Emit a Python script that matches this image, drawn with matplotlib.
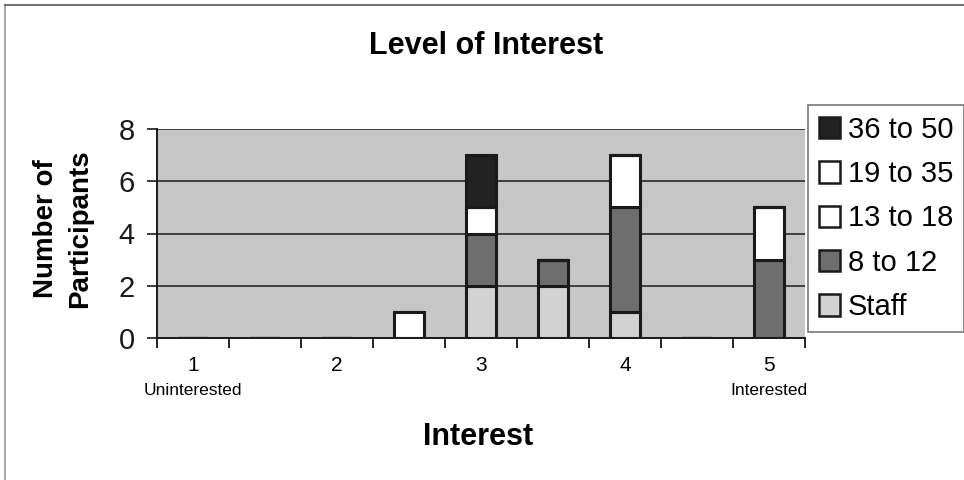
import matplotlib
matplotlib.use("Agg")
import matplotlib.pyplot as plt
from matplotlib.lines import Line2D
import numpy as np

# interest levels in half steps; only whole numbers get a label
LEVELS = ["1", "1.5", "2", "2.5", "3", "3.5", "4", "4.5", "5"]
LABELED = ["1", "2", "3", "4", "5"]

# participants per level, by group (stacked bottom to top)
STAFF = [0, 0, 0, 0, 2, 2, 1, 0, 0]
AGE_8_12 = [0, 0, 0, 0, 2, 1, 4, 0, 3]
AGE_13_18 = [0, 0, 0, 0, 1, 0, 2, 0, 2]
AGE_19_35 = [0, 0, 0, 1, 0, 0, 0, 0, 0]
AGE_36_50 = [0, 0, 0, 0, 2, 0, 0, 0, 0]

SERIES = [
    ("Staff", STAFF, "#d2d2d2"),
    ("8 to 12", AGE_8_12, "#6e6e6e"),
    ("13 to 18", AGE_13_18, "#ffffff"),
    ("19 to 35", AGE_19_35, "#ffffff"),
    ("36 to 50", AGE_36_50, "#222222"),
]

plt.rcParams["font.family"] = ["Liberation Sans", "DejaVu Sans"]

fig = plt.figure(figsize=(9.64, 4.8), dpi=100)
ax = fig.add_axes([157 / 964, 1 - 338 / 480, (805 - 157) / 964, (338 - 129) / 480])
ax.set_facecolor("#c6c6c6")

x = np.arange(len(LEVELS))
bottom = np.zeros(len(LEVELS))
handles = []
for name, vals, color in SERIES:
    vals = np.array(vals, dtype=float)
    ax.bar(x, vals, 0.42, bottom=bottom, color=color, edgecolor="#1a1a1a",
           linewidth=2.2, zorder=3)
    bottom += vals
    handles.append(plt.Rectangle((0, 0), 1, 1, facecolor=color,
                                 edgecolor="#1a1a1a", linewidth=1.8))

ax.set_xlim(-0.5, len(LEVELS) - 0.5)
ax.set_ylim(0, 8)
ax.set_yticks([0, 2, 4, 6, 8])
ax.tick_params(axis="y", labelsize=21, length=7, width=1.2, direction="out",
               pad=9, colors="#1a1a1a")
ax.grid(True, axis="y", color="#1a1a1a", linewidth=1.1, zorder=1)

# boundary ticks between levels, labels on the whole-number levels
ax.set_xticks(np.arange(-0.5, len(LEVELS), 1.0))
ax.set_xticklabels([])
ax.tick_params(axis="x", length=7, width=1.2, direction="out")
lab_pos = [LEVELS.index(l) for l in LABELED]
ax.set_xticks(lab_pos, minor=True)
ax.set_xticklabels(LABELED, minor=True)
ax.tick_params(axis="x", which="minor", length=0, labelsize=15, pad=13)

for side in ("top", "right"):
    ax.spines[side].set_visible(False)
for side in ("left", "bottom"):
    ax.spines[side].set_linewidth(1.4)
    ax.spines[side].set_color("#1a1a1a")

# scale end captions under the first and last labels
lab_tf = ax.get_xaxis_transform()
ax.text(lab_pos[0], -0.25, "Uninterested", transform=lab_tf, ha="center",
        va="center", fontsize=12.5)
ax.text(lab_pos[-1], -0.25, "Interested", transform=lab_tf, ha="center",
        va="center", fontsize=12.5)

fig.text(486 / 964, 1 - 46 / 480, "Level of Interest", ha="center", va="center",
         fontsize=22, fontweight="bold")
fig.text(478 / 964, 1 - 437 / 480, "Interest", ha="center", va="center",
         fontsize=22, fontweight="bold")
fig.text(63 / 964, 1 - 229 / 480, "Number of\nParticipants", ha="center",
         va="center", rotation=90, fontsize=20, fontweight="bold", linespacing=1.4)

leg = fig.legend(handles[::-1], [s[0] for s in SERIES][::-1],
                 loc="upper left", bbox_to_anchor=(808 / 964, 1 - 105 / 480),
                 fontsize=21, frameon=True, fancybox=False, borderpad=0.37,
                 handlelength=0.74, handleheight=0.74, handletextpad=0.25,
                 labelspacing=0.56, borderaxespad=0)
leg.get_frame().set_edgecolor("#555555")
leg.get_frame().set_linewidth(1.2)

# chart frame
fig.add_artist(Line2D([5 / 964, 5 / 964], [0, 1 - 5 / 480], color="#999999",
                      linewidth=1.2, transform=fig.transFigure))
fig.add_artist(Line2D([5 / 964, 1], [1 - 5 / 480, 1 - 5 / 480], color="#555555",
                      linewidth=1.2, transform=fig.transFigure))

fig.savefig("out.png", dpi=100)
